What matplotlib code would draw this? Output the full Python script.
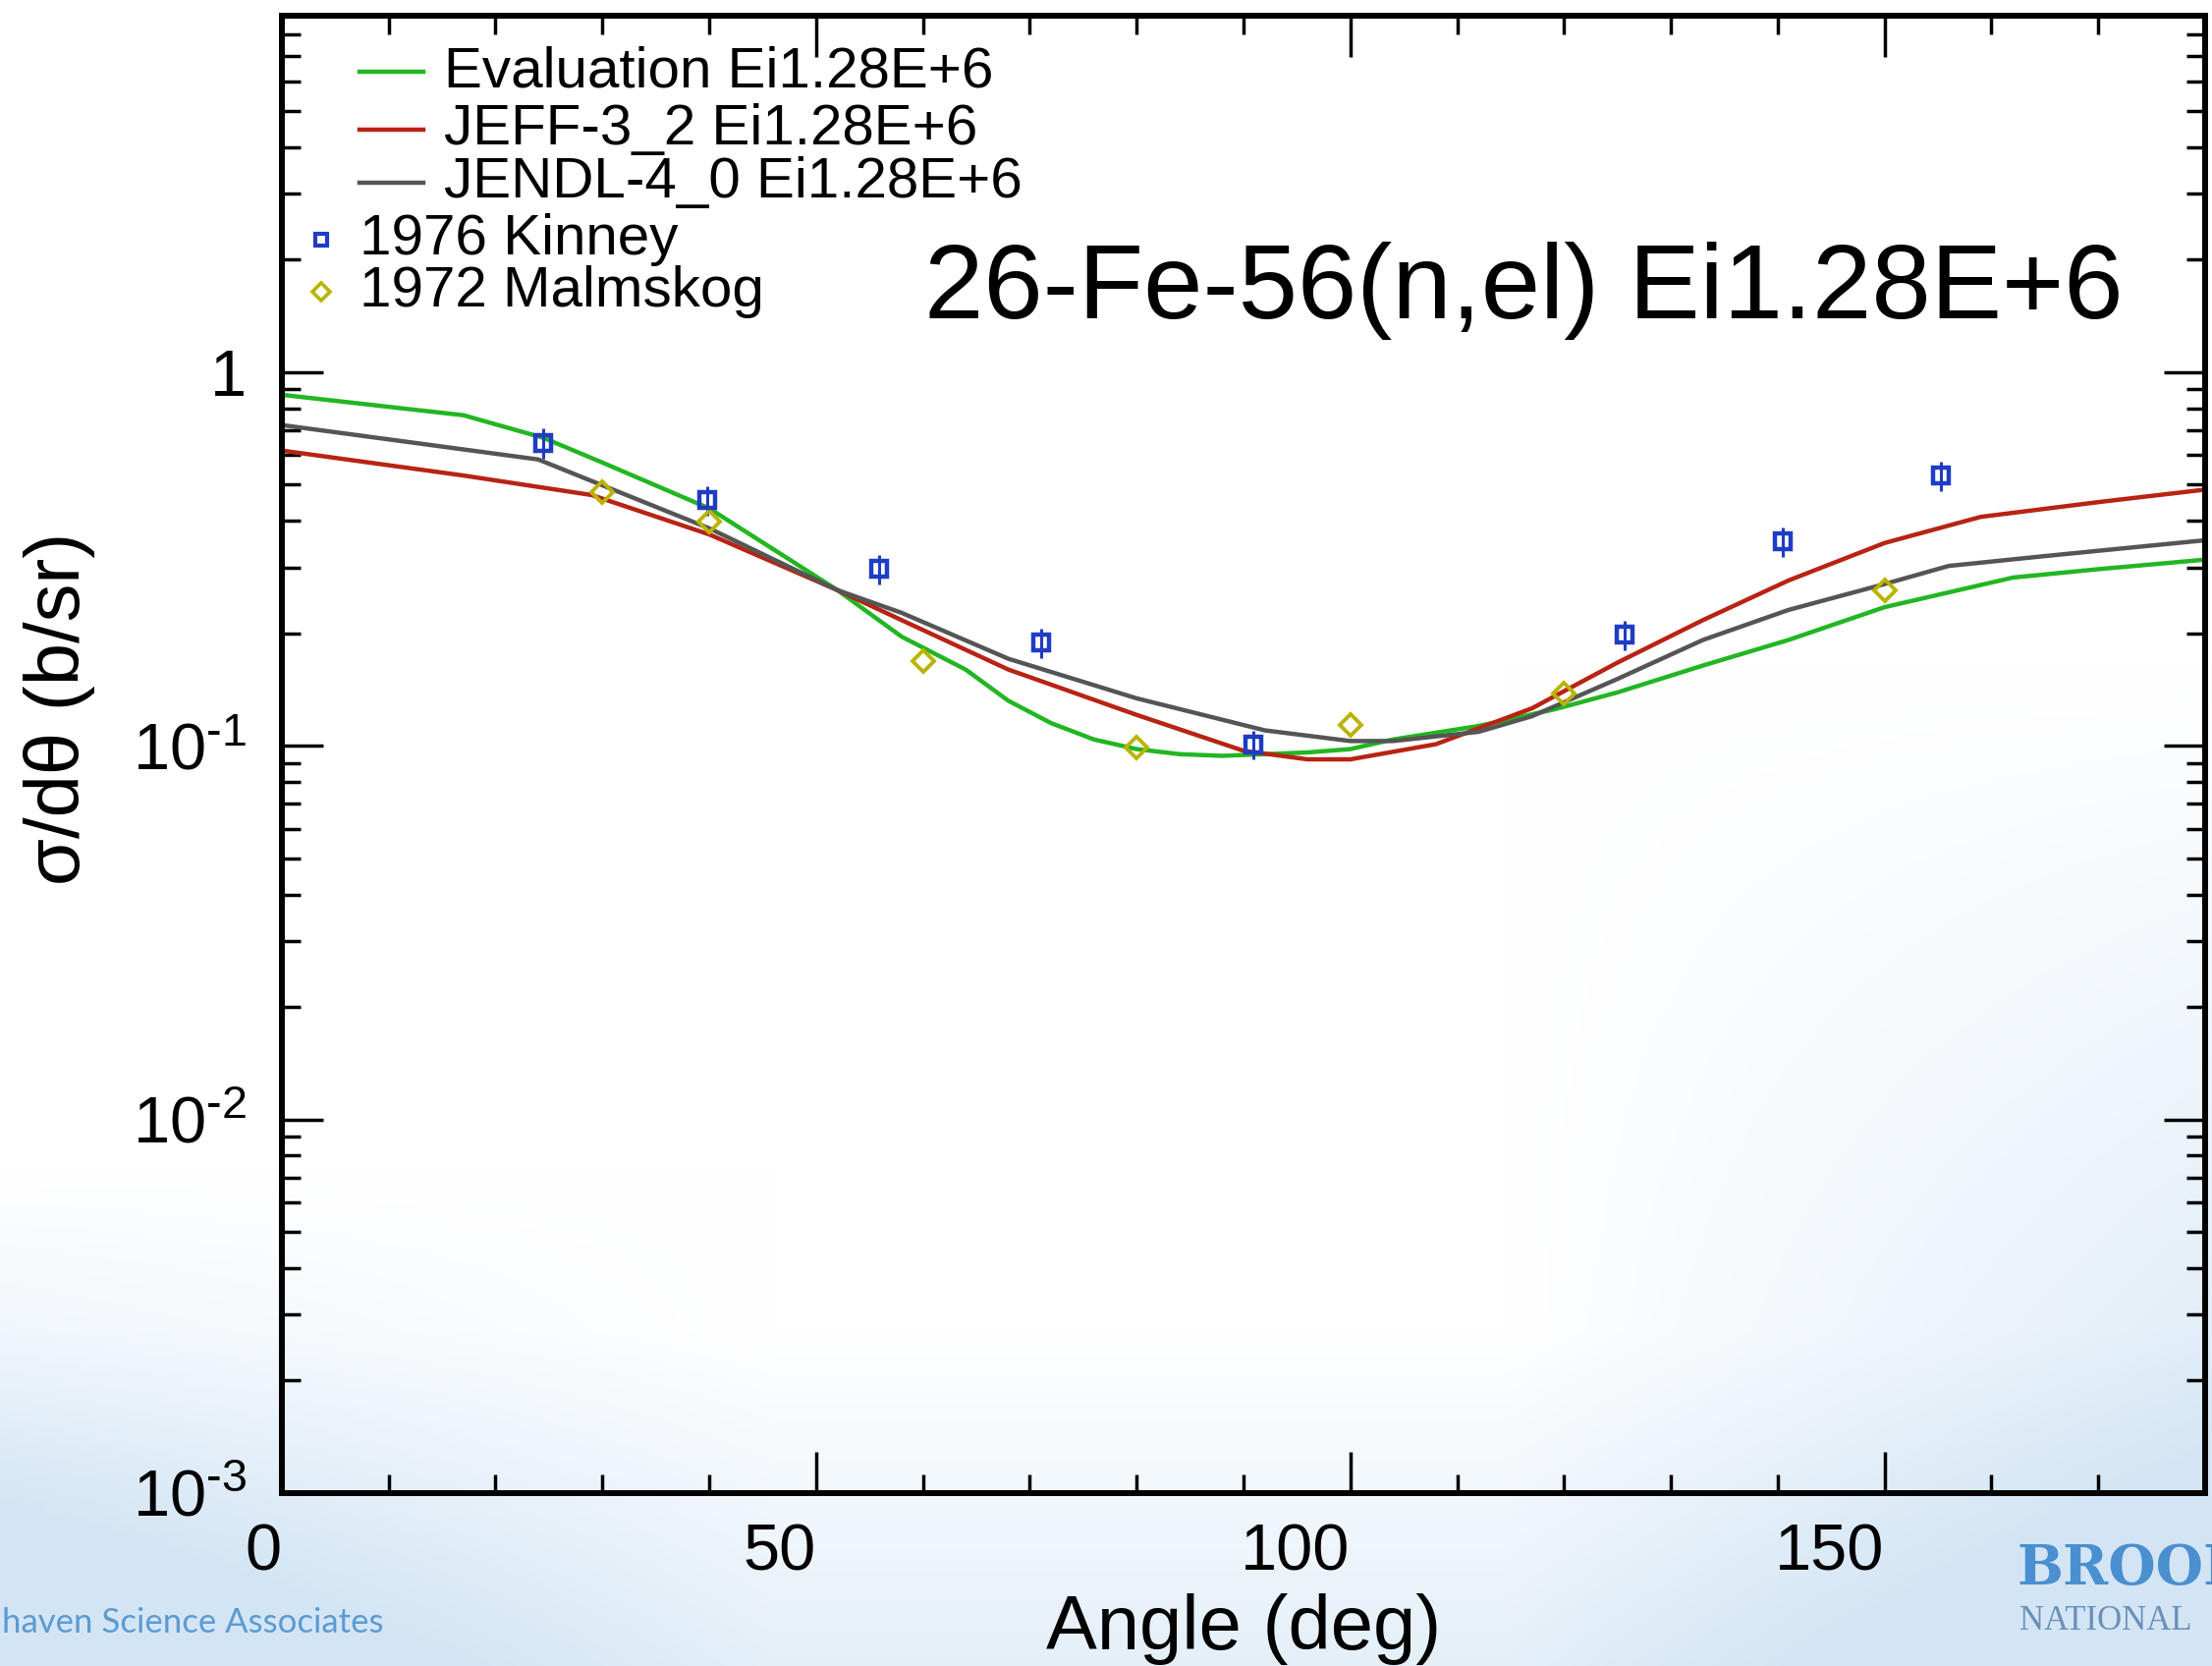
import numpy as np
import matplotlib.pyplot as plt
from matplotlib.ticker import MultipleLocator, LogLocator, FuncFormatter, NullFormatter

plt.rcParams['font.family'] = ['Liberation Sans', 'DejaVu Sans']
plt.rcParams['mathtext.fontset'] = 'custom'
plt.rcParams['mathtext.rm'] = 'Liberation Sans'
plt.rcParams['mathtext.default'] = 'regular'

# curves
eval_x = [0, 17, 24.5, 30, 40, 52, 58, 64, 68, 72, 76, 80, 84, 88, 96, 100, 104, 112, 119, 125, 133, 141,
          150, 162, 170, 180]
eval_y = [0.87, 0.767, 0.667, 0.573, 0.432, 0.261, 0.196, 0.160, 0.132, 0.115, 0.104, 0.098, 0.095, 0.094,
          0.096, 0.098, 0.104, 0.113, 0.125, 0.139, 0.164, 0.192, 0.235, 0.282, 0.297, 0.315]

jeff_x = [0, 17, 29, 40, 52, 58, 68, 80, 90, 96, 100, 108, 117, 125, 133, 141, 150, 159, 170, 180]
jeff_y = [0.617, 0.529, 0.469, 0.368, 0.261, 0.217, 0.160, 0.121, 0.097, 0.092, 0.092, 0.101, 0.126,
          0.167, 0.217, 0.277, 0.349, 0.410, 0.449, 0.485]

jendl_x = [0, 24, 30, 40, 52, 58, 68, 80, 92, 100, 104, 112, 117, 125, 133, 141, 150, 156, 165, 180]
jendl_y = [0.722, 0.584, 0.498, 0.382, 0.261, 0.227, 0.171, 0.134, 0.110, 0.103, 0.103, 0.109, 0.120,
           0.151, 0.192, 0.231, 0.271, 0.303, 0.322, 0.355]

kinney_x = [24.5, 39.8, 55.9, 71.1, 90.9, 125.7, 140.5, 155.3]
kinney_y = [0.647, 0.454, 0.297, 0.189, 0.101, 0.198, 0.353, 0.528]
kinney_err = [0.06, 0.04, 0.027, 0.017, 0.009, 0.018, 0.032, 0.048]

malm_x = [30, 40, 60, 80, 100, 120, 150]
malm_y = [0.477, 0.398, 0.169, 0.0988, 0.114, 0.138, 0.261]

curve_labels = ["Evaluation Ei1.28E+6", "JEFF-3_2 Ei1.28E+6", "JENDL-4_0 Ei1.28E+6"]
curve_colors = ["#22b622", "#b82314", "#555555"]
kin_color = '#1f3cc4'
mal_color = '#b8b400'

fig = plt.figure(figsize=(22.52, 16.96), dpi=100)

# slide background (light blue wash at the bottom and right)
bg = fig.add_axes([0, 0, 1, 1], zorder=-10)
xx, yy = np.meshgrid(np.linspace(0, 1, 400), np.linspace(1, 0, 300))
t = np.clip((0.2 - yy) / 0.2, 0, 1) * 0.6
t += np.clip((0.3 - yy) / 0.3, 0, 1) * np.clip((0.35 - xx) / 0.35, 0, 1) * 1.0
t += np.clip((xx - 0.68) / 0.32, 0, 1) * np.clip((0.6 - yy) / 0.6, 0, 1) * 1.0
t = np.clip(t, 0, 1)[..., None]
blue = np.array([0.83, 0.9, 0.96])
bg.imshow(1 - t * (1 - blue), aspect='auto', extent=[0, 1, 0, 1])
bg.axis('off')

ax = fig.add_axes([0.1274, 0.1038, 0.8695, 0.8868])
ax.set_facecolor('none')

ax.plot(eval_x, eval_y, color=curve_colors[0], lw=3.2)
ax.plot(jeff_x, jeff_y, color=curve_colors[1], lw=3.2)
ax.plot(jendl_x, jendl_y, color=curve_colors[2], lw=3.2)

ax.errorbar(kinney_x, kinney_y, yerr=kinney_err, fmt='s', ms=11, mfc='none', mec=kin_color,
            mew=3.2, ecolor=kin_color, elinewidth=2.2, capsize=0)
ax.plot(malm_x, malm_y, 'D', ms=11, mfc='none', mec=mal_color, mew=2.8)

ax.set_yscale('log')
ax.set_xlim(0, 180)
ax.set_ylim(1e-3, 9)

ax.xaxis.set_major_locator(MultipleLocator(50))
ax.xaxis.set_minor_locator(MultipleLocator(10))
ax.yaxis.set_major_locator(LogLocator(base=10, numticks=10))
ax.yaxis.set_minor_locator(LogLocator(base=10, subs=np.arange(2, 10), numticks=20))
ax.yaxis.set_minor_formatter(NullFormatter())


def fmt(v, pos):
    e = int(round(np.log10(v)))
    return '1' if e == 0 else r'$10^{\text{-}%d}$' % abs(e)


ax.yaxis.set_major_formatter(FuncFormatter(fmt))

ax.tick_params(which='both', direction='in', top=True, right=True, width=2.5, labelsize=48)
ax.tick_params(which='major', length=30)
ax.tick_params(which='minor', length=14)
ax.tick_params(axis='x', pad=22)
ax.tick_params(axis='y', pad=26)
plt.setp(ax.get_xticklabels(), ha='right')
for s in ax.spines.values():
    s.set_linewidth(4.3)

ax.set_xlabel("Angle (deg)", fontsize=56)
ax.set_ylabel("σ/dθ (b/sr)", fontsize=56)
ax.xaxis.set_label_coords(0.5, -0.068)
ax.yaxis.set_label_coords(-0.097, 0.531)

ax.text(0.334, 0.814, "26-Fe-56(n,el) Ei1.28E+6", transform=ax.transAxes, fontsize=78,
        ha='left', va='center')

# legend drawn by hand to match the original layout
rows = [0.9620, 0.9228, 0.8868]
for lab, col, yr in zip(curve_labels, curve_colors, rows):
    ax.plot([0.0403, 0.0736], [yr, yr], color=col, lw=3.2, transform=ax.transAxes)
    ax.text(0.0843, yr, lab, transform=ax.transAxes, fontsize=42, va='center')
ax.plot([0.0204], [0.8483], 's', ms=9, mfc='none', mec=kin_color, mew=3, transform=ax.transAxes)
ax.text(0.0403, 0.8483, "1976 Kinney", transform=ax.transAxes, fontsize=42, va='center')
ax.plot([0.0204], [0.8130], 'D', ms=9, mfc='none', mec=mal_color, mew=2.6, transform=ax.transAxes)
ax.text(0.0403, 0.8130, "1972 Malmskog", transform=ax.transAxes, fontsize=42, va='center')

# slide footer
fig.text(0.001, 0.026, "haven Science Associates", fontsize=25, color='#5b9bd2', ha='left', va='center',
         family='Lato')
fig.text(0.912, 0.058, "BROOKHAVEN", fontsize=40, color='#4a8fd0', fontweight='bold', ha='left',
         va='center', family='DejaVu Serif')
fig.text(0.913, 0.027, "NATIONAL", fontsize=25, color='#6a90b8', ha='left', va='center',
         family='Liberation Serif')

fig.savefig("out.png", dpi=100)
